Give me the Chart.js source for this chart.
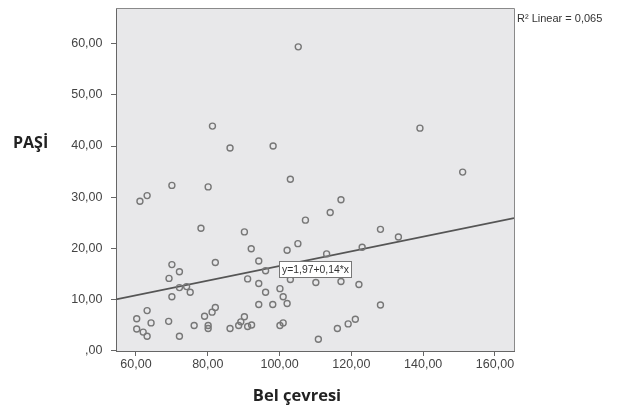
<!DOCTYPE html>
<html>
<head>
<meta charset="utf-8">
<script src="https://cdn.jsdelivr.net/npm/chart.js@4"></script>
<style>
  html, body { margin: 0; padding: 0; background: #ffffff; }
  #wrap { width: 630px; height: 406px; }
</style>
</head>
<body>
<div id="wrap"><canvas id="c" width="630" height="406"></canvas></div>
<script>
// Bel çevresi (x) and PAŞİ (y)
const belCevresi = [105.2, 81.3, 86.2, 98.2, 103.0, 139.1, 151.0, 61.1, 63.1, 70.0,
  80.1, 78.1, 90.2, 107.2, 105.1, 102.1, 92.1, 82.1, 94.2, 70.0,
  72.1, 69.2, 96.1, 103.0, 110.1, 91.1, 94.2, 72.1, 74.1, 75.1,
  70.0, 96.1, 100.1, 101.0, 102.1, 98.1, 94.2, 82.1, 81.2, 79.1,
  63.1, 60.2, 64.2, 69.1, 60.2, 62.0, 63.1, 72.1, 76.2, 80.1,
  80.1, 86.2, 88.6, 89.2, 90.2, 91.1, 92.2, 100.1, 101.0, 110.8,
  117.1, 114.1, 128.1, 133.1, 123.0, 113.1, 117.1, 122.1, 128.1, 121.1,
  119.1, 116.1];
const pasi = [59.4, 43.9, 39.6, 40.0, 33.5, 43.5, 34.9, 29.2, 30.3, 32.3,
  32.0, 23.9, 23.2, 25.5, 20.9, 19.6, 19.9, 17.2, 17.5, 16.8,
  15.4, 14.1, 15.6, 13.9, 13.3, 14.0, 13.1, 12.3, 12.5, 11.4,
  10.5, 11.4, 12.1, 10.5, 9.2, 9.0, 9.0, 8.4, 7.5, 6.7,
  7.8, 6.2, 5.4, 5.7, 4.2, 3.6, 2.8, 2.8, 4.9, 4.9,
  4.3, 4.3, 4.9, 5.6, 6.6, 4.7, 5.0, 4.9, 5.4, 2.2,
  29.5, 27.0, 23.7, 22.2, 20.2, 18.9, 13.5, 12.9, 8.9, 6.1,
  5.2, 4.3];

// Fit line end points (edges of the plot)
const fitX = [54.43, 165.3];
const fitY = [10.0, 25.9];

const xTicks = [60, 80, 100, 120, 140, 160];
const xTickLabels = ['60,00', '80,00', '100,00', '120,00', '140,00', '160,00'];
const yTicks = [0, 10, 20, 30, 40, 50, 60];
const yTickLabels = [',00', '10,00', '20,00', '30,00', '40,00', '50,00', '60,00'];

const xTitle = 'Bel çevresi';
const yTitle = 'PAŞİ';
const r2Text = 'R² Linear = 0,065';
const eqText = 'y=1,97+0,14*x';

const points = belCevresi.map((x, i) => ({ x: x, y: pasi[i] }));
const fitLine = fitX.map((x, i) => ({ x: x, y: fitY[i] }));

const decor = {
  id: 'decor',
  beforeDraw(chart) {
    const { ctx, chartArea: a } = chart;
    ctx.save();
    ctx.fillStyle = '#e8e8ea';
    ctx.fillRect(a.left, a.top, a.right - a.left, a.bottom - a.top);
    ctx.restore();
  },
  afterDatasetsDraw(chart) {
    const { ctx } = chart;
    const xs = chart.scales.x, ys = chart.scales.y;
    // equation label box placed near the fit line
    const cx = xs.getPixelForValue(109.8);
    const cy = ys.getPixelForValue(16.0);
    ctx.save();
    ctx.font = '10.4px "Liberation Sans", Arial, sans-serif';
    const w = Math.round(ctx.measureText(eqText).width + 5);
    const h = 16;
    const bx = Math.round(cx - w / 2) + 0.5, by = Math.round(cy - h / 2) + 0.5;
    ctx.fillStyle = '#ffffff';
    ctx.fillRect(bx, by, w, h);
    ctx.strokeStyle = '#777777';
    ctx.lineWidth = 1;
    ctx.strokeRect(bx, by, w, h);
    ctx.fillStyle = '#333333';
    ctx.textAlign = 'center';
    ctx.textBaseline = 'middle';
    ctx.fillText(eqText, bx + w / 2, by + h / 2 + 0.5);
    ctx.restore();
  },
  afterDraw(chart) {
    const { ctx, chartArea: a } = chart;
    ctx.save();
    ctx.strokeStyle = '#8a8a8a';
    ctx.lineWidth = 1;
    ctx.beginPath();
    ctx.moveTo(a.left, a.top + 0.5);
    ctx.lineTo(a.right + 0.5, a.top + 0.5);
    ctx.lineTo(a.right + 0.5, a.bottom);
    ctx.stroke();

    ctx.fillStyle = '#333333';
    ctx.font = '11px "Liberation Sans", Arial, sans-serif';
    ctx.textAlign = 'left';
    ctx.textBaseline = 'middle';
    ctx.fillText(r2Text, a.right + 3, 18.5);

    ctx.fillStyle = '#222222';
    ctx.font = 'bold 16px "Open Sans", sans-serif';
    ctx.textAlign = 'left';
    ctx.fillText(yTitle, 13, 143);

    ctx.textAlign = 'center';
    ctx.font = 'bold 16.5px "Open Sans", sans-serif';
    ctx.fillText(xTitle, 297, 396);
    ctx.restore();
  }
};

const tickFont = { family: '"Liberation Sans", Arial, sans-serif', size: 12.5 };

new Chart(document.getElementById('c'), {
  type: 'scatter',
  data: {
    datasets: [
      {
        data: points,
        pointRadius: 3,
        pointBorderWidth: 1.4,
        borderColor: '#777777',
        backgroundColor: 'rgba(0,0,0,0)',
        pointHoverRadius: 3
      },
      {
        type: 'line',
        data: fitLine,
        borderColor: '#555555',
        borderWidth: 1.6,
        pointRadius: 0,
        fill: false,
        tension: 0
      }
    ]
  },
  options: {
    responsive: false,
    animation: false,
    events: [],
    layout: { autoPadding: false, padding: { left: 0, right: 116, top: 8, bottom: 0 } },
    plugins: { legend: { display: false }, tooltip: { enabled: false } },
    scales: {
      x: {
        type: 'linear',
        min: 54.43,
        max: 165.3,
        afterBuildTicks(scale) { scale.ticks = xTicks.map(v => ({ value: v })); },
        afterFit(scale) {
          scale.height = 55;
          scale.paddingLeft = 0; scale.paddingRight = 0;
        },
        ticks: {
          autoSkip: false,
          maxRotation: 0,
          padding: 1,
          color: '#444444',
          font: tickFont,
          callback: (v, i) => xTickLabels[i]
        },
        grid: { drawOnChartArea: false, drawTicks: true, tickLength: 5, color: '#666666' },
        border: { display: true, color: '#666666', width: 1 }
      },
      y: {
        type: 'linear',
        min: -0.1,
        max: 67.0,
        afterBuildTicks(scale) { scale.ticks = yTicks.map(v => ({ value: v })); },
        afterFit(scale) {
          scale.width = 116;
          scale.paddingTop = 0; scale.paddingBottom = 0;
        },
        ticks: {
          autoSkip: false,
          padding: 8.5,
          color: '#444444',
          font: tickFont,
          callback: (v, i) => yTickLabels[i]
        },
        grid: { drawOnChartArea: false, drawTicks: true, tickLength: 5, color: '#666666' },
        border: { display: true, color: '#666666', width: 1 }
      }
    }
  },
  plugins: [decor]
});
</script>
</body>
</html>
